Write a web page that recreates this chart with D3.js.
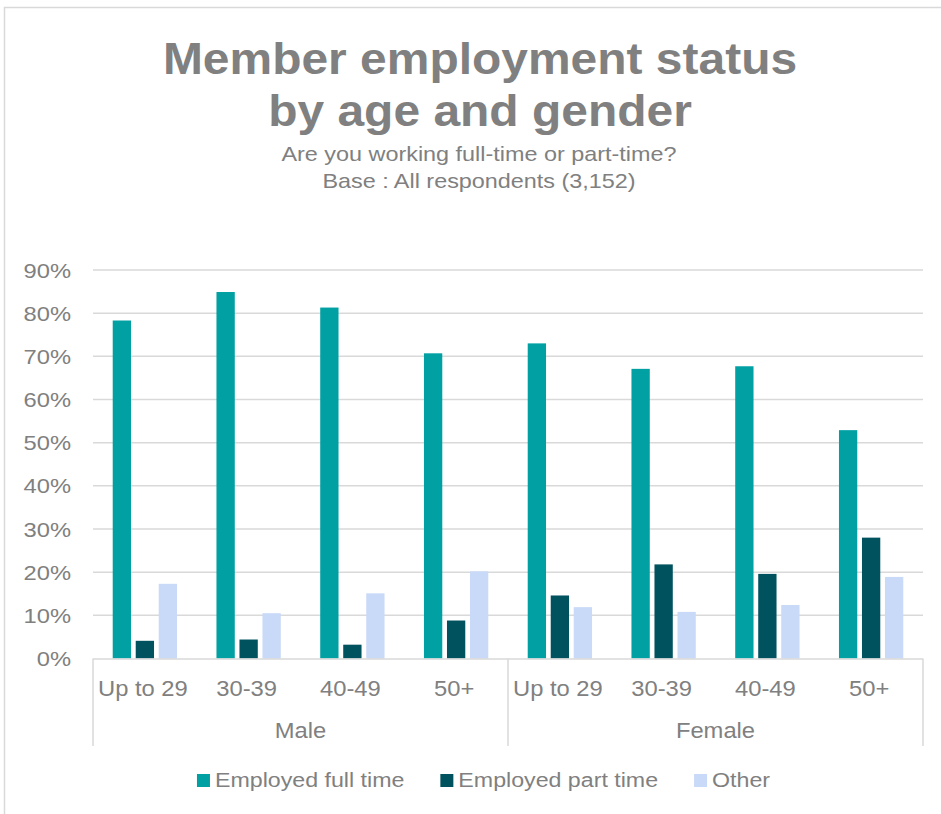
<!DOCTYPE html>
<html>
<head>
<meta charset="utf-8">
<script src="https://cdn.jsdelivr.net/npm/d3@7"></script>
<style>
  html, body { margin: 0; padding: 0; background: #fff; }
  svg { display: block; font-family: "Liberation Sans", Arial, sans-serif; }
</style>
</head>
<body>
<svg id="chart" width="941" height="814"></svg>
<script>
// ---- data ----
const ages = ["Up to 29", "30-39", "40-49", "50+"];
const genders = ["Male", "Female"];
const seriesNames = ["Employed full time", "Employed part time", "Other"];
const fullTime = [78.3, 84.9, 81.3, 70.7, 73.0, 67.1, 67.7, 52.9];
const partTime = [4.1, 4.4, 3.2, 8.8, 14.6, 21.8, 19.6, 28.0];
const other    = [17.3, 10.5, 15.1, 20.2, 11.9, 10.8, 12.4, 18.9];
const yTicks = [0, 10, 20, 30, 40, 50, 60, 70, 80, 90];
const colors = ["#00A0A3", "#01525F", "#C9DAF8"];

const titleLines = ["Member employment status", "by age and gender"];
const subtitleLines = ["Are you working full-time or part-time?", "Base : All respondents (3,152)"];

(function () {
// ---- build table ----
const cats = [];
genders.forEach(g => ages.forEach(a => cats.push({gender: g, age: a, key: g + "|" + a})));
const seriesVals = [fullTime, partTime, other];

const svg = d3.select("#chart");
const textColor = "#808080";
const gridColor = "#d9d9d9";

// outer border
svg.append("rect").attr("x", 4.5).attr("y", 7.5).attr("width", 960).attr("height", 840)
  .attr("fill", "none").attr("stroke", gridColor).attr("stroke-width", 1.5);

const pLeft = 93, pRight = 923, pTop = 270, pBottom = 658.5;

const x0 = d3.scaleBand().domain(cats.map(d => d.key)).range([pLeft, pRight]).padding(0);
const x1 = d3.scaleBand().domain(seriesNames).range([0, x0.bandwidth()])
  .paddingInner(0.204).paddingOuter(0.857);
const y = d3.scaleLinear().domain([0, 90]).range([pBottom, pTop]);

function stretchedText(sel, x, yy, sx, txt) {
  return sel.append("text")
    .attr("transform", `translate(${x},${yy}) scale(${sx},1)`)
    .text(txt);
}

// gridlines
const gridG = svg.append("g");
gridG.selectAll("line").data(yTicks.filter(t => t > 0)).join("line")
  .attr("x1", pLeft).attr("x2", pRight)
  .attr("y1", d => y(d)).attr("y2", d => y(d))
  .attr("stroke", gridColor).attr("stroke-width", 1.5);

// y tick labels
const yLab = svg.append("g").attr("fill", textColor).attr("font-size", 21).attr("text-anchor", "end");
yTicks.forEach(t => stretchedText(yLab, 71, y(t) + 7.5, 1.13, t + "%"));

// bars
const barG = svg.append("g");
seriesNames.forEach((s, si) => {
  barG.append("g").selectAll("rect").data(cats).join("rect")
    .attr("x", d => x0(d.key) + x1(s))
    .attr("width", x1.bandwidth())
    .attr("y", (d, i) => y(seriesVals[si][i]))
    .attr("height", (d, i) => y(0) - y(seriesVals[si][i]))
    .attr("fill", colors[si]);
});

// x axis baseline
svg.append("line").attr("x1", pLeft).attr("x2", pRight).attr("y1", pBottom + 0.5).attr("y2", pBottom + 0.5)
  .attr("stroke", gridColor).attr("stroke-width", 1.5);

// group separators
const sepX = [pLeft, x0(cats[ages.length].key), pRight];
svg.append("g").selectAll("line").data(sepX).join("line")
  .attr("x1", d => d).attr("x2", d => d)
  .attr("y1", pBottom).attr("y2", 746)
  .attr("stroke", gridColor).attr("stroke-width", 1.5);

// category labels
const catLab = svg.append("g").attr("fill", textColor).attr("font-size", 22).attr("text-anchor", "middle");
cats.forEach(d => stretchedText(catLab, x0(d.key) + x0.bandwidth() / 2 - 2, 696, 1.08, d.age));

// gender labels
genders.forEach((g, gi) => {
  const a = x0(g + "|" + ages[0]);
  const b = x0(g + "|" + ages[ages.length - 1]) + x0.bandwidth();
  stretchedText(catLab, (a + b) / 2, 738, 1.08, g);
});

// title
const tG = svg.append("g").attr("fill", textColor).attr("text-anchor", "middle");
stretchedText(tG, 480, 74, 1.09, titleLines[0]).attr("font-size", 44).attr("font-weight", "bold");
stretchedText(tG, 480, 126, 1.09, titleLines[1]).attr("font-size", 44).attr("font-weight", "bold");
stretchedText(tG, 479, 161, 1.17, subtitleLines[0]).attr("font-size", 20);
stretchedText(tG, 479, 188, 1.17, subtitleLines[1]).attr("font-size", 20);

// legend
const legG = svg.append("g").attr("font-size", 20).attr("fill", textColor);
const sxLeg = 1.16, sq = 13, gapSq = 5, gapItem = 36;
const items = seriesNames.map((s, i) => {
  const t = legG.append("text").attr("transform", `translate(0,787) scale(${sxLeg},1)`).text(s);
  const w = t.node().getComputedTextLength() * sxLeg;
  return {t, w, i};
});
const total = items.reduce((acc, it) => acc + sq + gapSq + it.w, 0) + gapItem * (items.length - 1);
let cx = 483.5 - total / 2;
items.forEach(it => {
  legG.append("rect").attr("x", cx).attr("y", 774).attr("width", sq).attr("height", sq).attr("fill", colors[it.i]);
  it.t.attr("transform", `translate(${cx + sq + gapSq},787) scale(${sxLeg},1)`);
  cx += sq + gapSq + it.w + gapItem;
});
})();
</script>
</body>
</html>
